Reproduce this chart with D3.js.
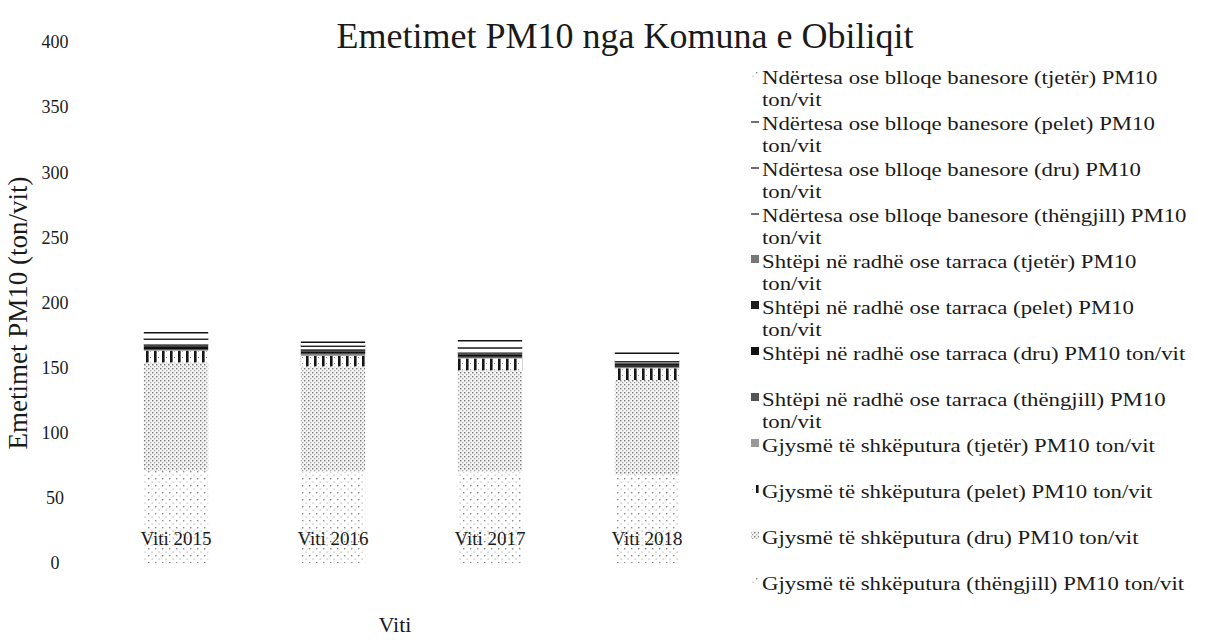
<!DOCTYPE html>
<html>
<head>
<meta charset="utf-8">
<title>Emetimet PM10 nga Komuna e Obiliqit</title>
<script src="https://d3js.org/d3.v7.min.js"></script>
<style>
  body { margin: 0; background: #fff; }
</style>
</head>
<body>
<script>

// categories
var years = ['Viti 2015', 'Viti 2016', 'Viti 2017', 'Viti 2018'];

// series values (ton/vit), bottom of the stack first
var gjThengjill = [71, 70, 70, 68];
var gjDru       = [83, 81, 78, 72.5];
var gjPelet     = [9, 8, 9, 9];
var gjTjeter    = [0.5, 1, 0.5, 0.5];
var shThengjill = [0.8, 0.7, 0.8, 0.6];
var shDru       = [1.7, 1.6, 1.6, 1.3];
var shPelet     = [1.2, 1.1, 1.1, 0.9];
var shTjeter    = [0.3, 0.3, 0.3, 0.2];
var ndThengjill = [0.3, 0.3, 0.3, 0.3];
var ndDru       = [4, 2.5, 3.5, 1.2];
var ndPelet     = [0.5, 0.4, 0.5, 0.5];
var ndTjeter    = [4.5, 2.6, 5, 6];

var yTicks = [0, 50, 100, 150, 200, 250, 300, 350, 400];

var seriesKeys = ['gjThengjill', 'gjDru', 'gjPelet', 'gjTjeter',
                  'shThengjill', 'shDru', 'shPelet', 'shTjeter',
                  'ndThengjill', 'ndDru', 'ndPelet', 'ndTjeter'];
var seriesValues = [gjThengjill, gjDru, gjPelet, gjTjeter,
                    shThengjill, shDru, shPelet, shTjeter,
                    ndThengjill, ndDru, ndPelet, ndTjeter];

// legend labels, top entry first (as the legend shows them)
var legendLabels = [
  ['Ndërtesa ose blloqe banesore (tjetër) PM10', 'ton/vit'],
  ['Ndërtesa ose blloqe banesore (pelet) PM10', 'ton/vit'],
  ['Ndërtesa ose blloqe banesore (dru) PM10', 'ton/vit'],
  ['Ndërtesa ose blloqe banesore (thëngjill) PM10', 'ton/vit'],
  ['Shtëpi në radhë ose tarraca (tjetër) PM10', 'ton/vit'],
  ['Shtëpi në radhë ose tarraca (pelet) PM10', 'ton/vit'],
  ['Shtëpi në radhë ose tarraca (dru) PM10 ton/vit'],
  ['Shtëpi në radhë ose tarraca (thëngjill) PM10', 'ton/vit'],
  ['Gjysmë të shkëputura (tjetër) PM10 ton/vit'],
  ['Gjysmë të shkëputura (pelet) PM10 ton/vit'],
  ['Gjysmë të shkëputura (dru) PM10 ton/vit'],
  ['Gjysmë të shkëputura (thëngjill) PM10 ton/vit']
];

var width = 1211, height = 640;
var serif = '"Liberation Serif", "Times New Roman", Times, serif';

var svg = d3.select('body').append('svg')
  .attr('width', width)
  .attr('height', height)
  .attr('font-family', serif);

// fill patterns, roughly like the printed halftones
var defs = svg.append('defs');

var p = defs.append('pattern').attr('id', 'pThengjill')
  .attr('patternUnits', 'userSpaceOnUse').attr('width', 7).attr('height', 7);
p.append('rect').attr('x', 1).attr('y', 2).attr('width', 1.4).attr('height', 1.4).attr('fill', '#8a8a8a');
p.append('rect').attr('x', 4.5).attr('y', 5.5).attr('width', 1.2).attr('height', 1.2).attr('fill', '#b0b0b0');

p = defs.append('pattern').attr('id', 'pDru')
  .attr('patternUnits', 'userSpaceOnUse').attr('width', 4).attr('height', 4);
p.append('rect').attr('width', 4).attr('height', 4).attr('fill', '#f4f4f4');
p.append('rect').attr('x', 0).attr('y', 0).attr('width', 1.4).attr('height', 1.4).attr('fill', '#777');
p.append('rect').attr('x', 2).attr('y', 2).attr('width', 1.3).attr('height', 1.3).attr('fill', '#a5a5a5');

p = defs.append('pattern').attr('id', 'pPelet')
  .attr('patternUnits', 'userSpaceOnUse').attr('width', 8).attr('height', 6);
p.append('rect').attr('width', 8).attr('height', 6).attr('fill', '#fff');
p.append('rect').attr('x', 2).attr('width', 2.6).attr('height', 6).attr('fill', '#151515');
p.append('rect').attr('x', 6).attr('y', 3).attr('width', 1).attr('height', 1).attr('fill', '#999');

var seriesFill = {
  gjThengjill: 'url(#pThengjill)', gjDru: 'url(#pDru)', gjPelet: 'url(#pPelet)', gjTjeter: '#9a9a9a',
  shThengjill: '#555', shDru: '#111', shPelet: '#1c1c1c', shTjeter: '#777',
  ndThengjill: '#fff', ndDru: '#fff', ndPelet: '#fff', ndTjeter: '#fff'
};

// scales
var x = d3.scaleBand()
  .domain(years)
  .range([97.5, 725.5])
  .paddingInner(0.59)
  .paddingOuter(0.295);

var y = d3.scaleLinear()
  .domain([0, 400])
  .range([563, 42]);

// stacked data
var rows = years.map(function (yr, i) {
  var row = { year: yr };
  seriesKeys.forEach(function (k, j) { row[k] = seriesValues[j][i]; });
  return row;
});
var stacked = d3.stack().keys(seriesKeys)(rows);

var layers = svg.append('g').selectAll('g')
  .data(stacked)
  .enter()
  .append('g');

layers.selectAll('rect')
  .data(function (d) { return d.map(function (v) { return { key: d.key, v: v }; }); })
  .enter()
  .append('rect')
  .attr('x', function (d) { return x(d.v.data.year); })
  .attr('y', function (d) { return y(d.v[1]); })
  .attr('width', x.bandwidth())
  .attr('height', function (d) { return y(d.v[0]) - y(d.v[1]); })
  .attr('fill', function (d) { return seriesFill[d.key]; });

// the apartment-building series print as thin dark lines on top of each piece
layers.filter(function (d) { return d.key.indexOf('nd') === 0; })
  .selectAll('line')
  .data(function (d) { return d; })
  .enter()
  .append('line')
  .attr('x1', function (d) { return x(d.data.year); })
  .attr('x2', function (d) { return x(d.data.year) + x.bandwidth(); })
  .attr('y1', function (d) { return y(d[1]); })
  .attr('y2', function (d) { return y(d[1]); })
  .attr('stroke', '#111')
  .attr('stroke-width', 1.6);

// y axis
var yAxis = svg.append('g')
  .attr('transform', 'translate(66,0)')
  .call(d3.axisLeft(y).tickValues(yTicks).tickSize(0));
yAxis.select('.domain').remove();
yAxis.attr('font-family', serif).attr('font-size', 18);
yAxis.selectAll('text')
  .attr('x', -11)
  .attr('text-anchor', 'middle')
  .attr('fill', '#1a1a1a');

// x axis
var xAxis = svg.append('g')
  .attr('transform', 'translate(0,528)')
  .call(d3.axisBottom(x).tickSize(0).tickPadding(4));
xAxis.select('.domain').remove();
xAxis.attr('font-family', serif).attr('font-size', 19);
xAxis.selectAll('text').attr('fill', '#1a1a1a');

// titles
svg.append('text')
  .attr('x', 625)
  .attr('y', 48)
  .attr('text-anchor', 'middle')
  .attr('font-size', 36)
  .attr('fill', '#1a1a1a')
  .text('Emetimet PM10 nga Komuna e Obiliqit');

svg.append('text')
  .attr('transform', 'translate(27,313) rotate(-90)')
  .attr('text-anchor', 'middle')
  .attr('font-size', 27)
  .attr('fill', '#1a1a1a')
  .text('Emetimet PM10 (ton/vit)');

svg.append('text')
  .attr('x', 395)
  .attr('y', 632)
  .attr('text-anchor', 'middle')
  .attr('font-size', 22)
  .attr('fill', '#1a1a1a')
  .text('Viti');

// legend
var legendKeys = seriesKeys.slice().reverse();
var legend = svg.append('g').selectAll('g')
  .data(legendLabels)
  .enter()
  .append('g')
  .attr('transform', function (d, i) { return 'translate(762,' + (84 + i * 46) + ')'; });

legend.each(function (d, i) {
  var g = d3.select(this);
  var key = legendKeys[i];
  if (key.indexOf('nd') === 0) {
    if (key === 'ndTjeter') {
      g.append('rect').attr('x', -10).attr('y', -13).attr('width', 6).attr('height', 6)
        .attr('fill', 'url(#pThengjill)');
    } else {
      g.append('line').attr('x1', -11).attr('x2', -3).attr('y1', -8).attr('y2', -8)
        .attr('stroke', '#333').attr('stroke-width', 1.4);
    }
  } else {
    g.append('rect').attr('x', -11).attr('y', -13).attr('width', 8).attr('height', 8)
      .attr('fill', seriesFill[key]);
  }
  // the scan stretches the legend text sideways
  var t = g.append('text')
    .attr('font-size', 19)
    .attr('fill', '#1a1a1a')
    .attr('transform', 'scale(1.2,1)');
  d.forEach(function (line, j) {
    t.append('tspan').attr('x', 0).attr('dy', j === 0 ? 0 : 22).text(line);
  });
});

</script>
</body>
</html>
